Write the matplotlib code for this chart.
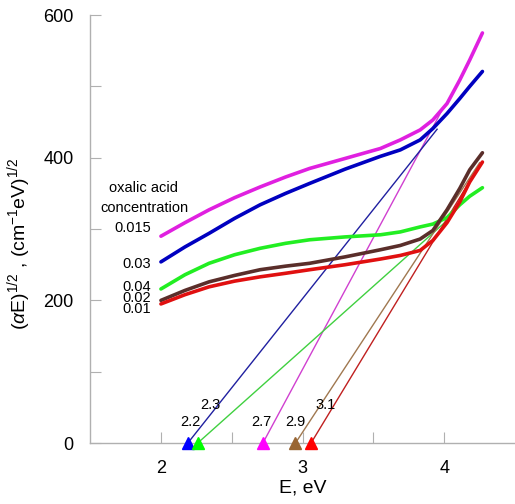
import numpy as np
import matplotlib.pyplot as plt

plt.rcParams['font.family'] = ['Liberation Sans', 'DejaVu Sans']
plt.rcParams['mathtext.fontset'] = 'custom'
plt.rcParams['mathtext.rm'] = 'Liberation Sans'
plt.rcParams['mathtext.it'] = 'Liberation Sans:italic'

# --- curves: E (eV) vs (alpha E)^1/2 ---
e_pts = [2.0, 2.17, 2.34, 2.52, 2.70, 2.88, 3.05, 3.30, 3.55,
         3.69, 3.83, 3.92, 4.02, 4.11, 4.18, 4.27]

magenta = [290, 309, 327, 344, 359, 373, 385, 399, 413, 425, 439, 453, 476, 509, 537, 575]
blue    = [254, 275, 294, 315, 334, 350, 364, 384, 402, 411, 425, 441, 462, 483, 500, 521]
green   = [216, 236, 252, 264, 273, 280, 285, 289, 292, 296, 303, 307, 316, 334, 346, 358]
brown   = [200, 214, 226, 235, 243, 248, 252, 261, 271, 277, 286, 298, 327, 357, 383, 407]
red     = [195, 208, 219, 227, 233, 238, 243, 250, 258, 263, 270, 284, 309, 338, 366, 394]

series = [
    ("0.015", magenta, "#e020e0"),
    ("0.03",  blue,    "#0000c0"),
    ("0.04",  green,   "#22ee22"),
    ("0.02",  brown,   "#5a2e2a"),
    ("0.01",  red,     "#e01010"),
]

# --- tangent lines: x-intercept, end point ---
fit_x0   = [2.72, 2.19, 2.26, 2.95, 3.06]
fit_xend = [3.98, 3.95, 4.02, 4.25, 4.25]
fit_yend = [465, 440, 312, 393, 390]
fit_cols = ["#d040d0", "#2020a0", "#40d040", "#a07850", "#c02020"]
tri_cols = ["#ff00ff", "#0000ff", "#00ff00", "#996633", "#ff0000"]

gap_labels = ["2.7", "2.2", "2.3", "2.9", "3.1"]
gap_lab_x  = [2.71, 2.21, 2.35, 2.95, 3.16]
gap_lab_y  = [30, 30, 53, 30, 53]

conc_labels = ["0.015", "0.03", "0.04", "0.02", "0.01"]
conc_lab_y  = [301, 251, 219, 203, 188]

fig = plt.figure(figsize=(5.15, 5.04), dpi=100)
ax = fig.add_axes([0.175, 0.121, 0.825, 0.849])

for name, vals, col in series:
    ax.plot(e_pts, vals, color=col, lw=2.6, solid_capstyle='round',
            solid_joinstyle='round', zorder=3)

for x0, xe, ye, c in zip(fit_x0, fit_xend, fit_yend, fit_cols):
    ax.plot([x0, xe], [0, ye], color=c, lw=1.0, zorder=2)

for x0, c in zip(fit_x0, tri_cols):
    ax.plot(x0, 0, marker='^', color=c, ms=9, clip_on=False, zorder=4)

for t, x, y in zip(gap_labels, gap_lab_x, gap_lab_y):
    ax.text(x, y, t, fontsize=10.5, ha='center', va='center')

ax.text(1.88, 357, "oxalic acid", fontsize=10.5, ha='center', va='center')
ax.text(1.88, 329, "concentration", fontsize=10.5, ha='center', va='center')
for t, y in zip(conc_labels, conc_lab_y):
    ax.text(1.93, y, t, fontsize=10.5, ha='right', va='center')

ax.set_xlim(1.5, 4.5)
ax.set_ylim(0, 600)
ax.set_xticks([2, 2.5, 3, 3.5, 4])
ax.set_xticklabels(["2", "", "3", "", "4"])
ax.set_yticks([0, 100, 200, 300, 400, 500, 600])
ax.set_yticklabels(["0", "", "200", "", "400", "", "600"])
ax.tick_params(direction='in', length=8, color='#b0b0b0', labelsize=13, pad=12)

for s in ['top', 'right']:
    ax.spines[s].set_visible(False)
for s in ['left', 'bottom']:
    ax.spines[s].set_color('#b0b0b0')
    ax.spines[s].set_linewidth(1.0)

ax.set_xlabel("E, eV", fontsize=14, labelpad=2)
ax.set_ylabel(r"($\alpha$E)$^{1/2}$ , (cm$^{-1}$eV)$^{1/2}$", fontsize=14)
ax.yaxis.set_label_coords(-0.135, 0.465)

fig.savefig("out.png", dpi=100)
